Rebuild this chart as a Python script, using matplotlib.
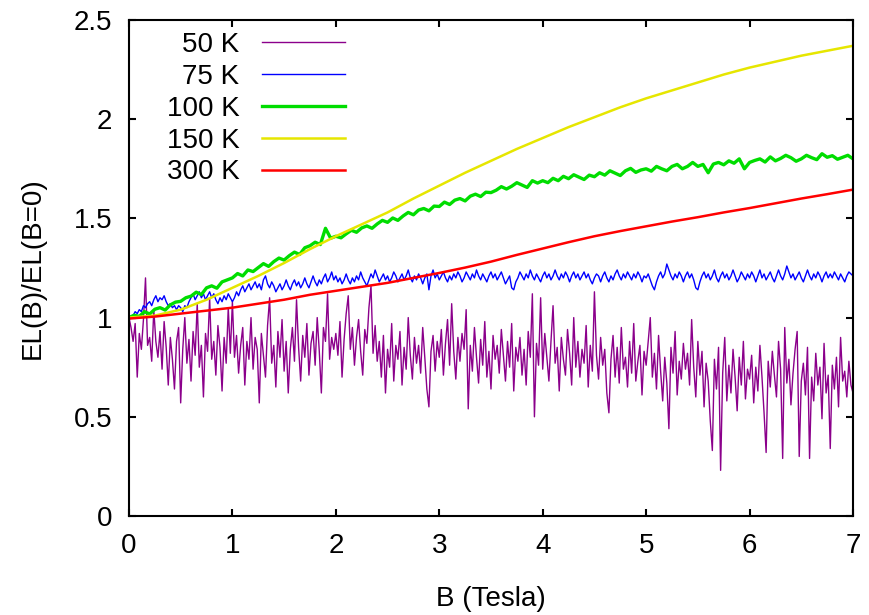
import numpy as np
import matplotlib
matplotlib.use("Agg")
import matplotlib.pyplot as plt
from matplotlib.ticker import FormatStrFormatter

plt.rcParams['font.family'] = ['Liberation Sans', 'DejaVu Sans']
plt.rcParams['font.size'] = 20

# ---- data ----
# noisy curves sampled every 0.02 T, values in hundredths
b_fine = np.round(np.arange(0, 7.0001, 0.02), 2)
el_50k = np.array([
    100, 95, 88, 97, 70, 92, 84, 99, 120, 86, 90, 78, 104, 88, 80, 93, 74, 98, 85, 66,
    90, 79, 64, 88, 95, 57, 84, 100, 77, 89, 68, 93, 81, 107, 75, 86, 60, 92, 83, 110,
    79, 88, 71, 96, 85, 63, 90, 77, 105, 82,
    108, 80, 91, 72, 86, 95, 66, 88, 79, 100, 74, 90, 84, 57, 92, 81, 70, 96, 110, 77,
    86, 65, 93, 80, 99, 73, 88, 62, 84, 95, 78, 109, 85, 68, 91, 80, 97, 71, 87, 93,
    76, 100, 83, 62, 95, 88, 112, 79, 90, 84,
    92, 81, 98, 70, 89, 102, 111, 84, 95, 76, 90, 99, 83, 71, 94, 87, 105, 116, 82, 96,
    78, 88, 70, 91, 62, 84, 75, 97, 68, 86, 79, 93, 66, 85, 74, 100, 81, 69, 90, 77,
    86, 72, 95, 80, 64, 55, 83, 91, 73, 88,
    80, 94, 71, 87, 99, 76, 107, 83, 69, 90, 78, 92, 84, 104, 54, 86, 73, 95, 80, 67,
    89, 76, 98, 70, 83, 64, 91, 79, 86, 72, 94, 81, 68, 88, 75, 97, 63, 85, 78, 90,
    71, 84, 66, 93, 80, 112, 50, 87, 76, 110,
    74, 92, 80, 68, 88, 106, 77, 85, 63, 90, 79, 71, 94, 82, 66, 100, 75, 88, 70, 84,
    77, 96, 65, 86, 73, 113, 81, 69, 90, 76, 84, 62, 52, 79, 91, 70, 85, 67, 95, 74,
    80, 65, 88, 72, 97, 68, 78, 86, 61, 83,
    76, 88, 100, 70, 82, 64, 91, 73, 58, 80, 67, 44, 85, 72, 93, 61, 78, 69, 87, 74,
    82, 66, 99, 75, 60, 88, 71, 83, 55, 77, 68, 48, 33, 79, 64, 85, 23, 72, 90, 58,
    76, 62, 84, 70, 53, 80, 66, 88, 59, 74,
    69, 81, 57, 75, 63, 86, 70, 52, 32, 78, 65, 83, 71, 60, 88, 74, 29, 95, 67, 79,
    56, 72, 84, 93, 30, 68, 77, 61, 85, 29, 70, 58, 82, 66, 75, 49, 87, 62, 71, 34,
    76, 64, 80, 55, 90, 68, 73, 60, 78, 66,
    62]) / 100.0
el_75k = np.array([
    99, 100, 101, 103, 102, 104, 103, 106, 105, 107, 108, 106, 109, 111, 108, 110, 109, 111, 108, 106,
    107, 105, 106, 104, 106, 105, 103, 106, 105, 108, 110, 112, 109, 111, 113, 110, 112, 109, 111, 113,
    110, 112, 109, 107, 110, 108, 111, 109, 112, 110,
    108, 110, 113, 111, 114, 116, 113, 115, 117, 114, 116, 118, 115, 117, 114, 119, 121, 117, 115, 118,
    116, 113, 115, 117, 114, 116, 119, 116, 114, 117, 119, 116, 118, 115, 117, 120, 117, 115, 118, 121,
    118, 116, 119, 117, 120, 122, 118, 120, 123, 119,
    121, 118, 120, 117, 119, 122, 119, 117, 120, 118, 121, 119, 123, 120, 118, 116, 119, 122, 120, 124,
    121, 118, 120, 122, 119, 121, 118, 120, 123, 121, 118, 120, 122, 119, 121, 124, 120, 118, 121, 119,
    122, 120, 117, 120, 122, 114, 121, 124, 120, 122,
    119, 121, 123, 120, 118, 121, 119, 122, 120, 123, 121, 118, 120, 123, 121, 119, 122, 120, 124, 121,
    119, 122, 120, 118, 121, 123, 120, 122, 119, 121, 123, 120, 117, 119, 121, 115, 114, 118, 120, 123,
    121, 119, 122, 120, 124, 121, 119, 122, 120, 118,
    121, 123, 120, 122, 119, 121, 124, 121, 119, 122, 120, 123, 121, 118, 121, 123, 120, 122, 119, 121,
    123, 120, 122, 119, 117, 120, 122, 121, 118, 121, 123, 120, 118, 121, 119, 122, 124, 121, 119, 122,
    120, 123, 121, 119, 122, 120, 123, 121, 118, 121,
    120, 122, 119, 116, 114, 118, 121, 123, 120, 122, 127, 124, 121, 119, 122, 120, 123, 121, 118, 121,
    123, 120, 122, 119, 115, 114, 118, 121, 123, 120, 122, 119, 121, 124, 120, 118, 121, 123, 120, 122,
    119, 121, 124, 121, 118, 120, 123, 121, 119, 122,
    120, 123, 121, 118, 121, 124, 120, 122, 119, 121, 123, 120, 118, 121, 124, 121, 119, 122, 126, 123,
    120, 122, 119, 121, 123, 120, 118, 121, 124, 121, 119, 122, 120, 123, 121, 118, 121, 123, 120, 122,
    120, 123, 121, 119, 122, 120, 118, 121, 123, 122,
    121]) / 100.0

# 100 K sampled every 0.05 T, values in thousandths
b_mid = np.round(np.arange(0, 7.0001, 0.05), 2)
el_100k = np.array([
    1000, 1012, 1006, 1030, 1018, 1042, 1050, 1038, 1064, 1078, 1082, 1100, 1108, 1128, 1116, 1150, 1160, 1148, 1180, 1190,
    1200, 1222, 1210, 1240, 1232, 1252, 1272, 1258, 1282, 1300, 1290, 1312, 1330, 1318, 1352, 1362, 1380, 1368, 1450, 1400,
    1410, 1402, 1422, 1440, 1430, 1452, 1462, 1450, 1472, 1490, 1480, 1502, 1490, 1512, 1530, 1518, 1542, 1550, 1538, 1562,
    1560, 1582, 1570, 1592, 1600, 1588, 1612, 1622, 1610, 1632, 1630, 1642, 1660, 1648, 1662, 1680, 1668, 1656, 1690, 1678,
    1690, 1680, 1702, 1690, 1712, 1700, 1720, 1708, 1696, 1718, 1710, 1730, 1718, 1740, 1728, 1716, 1740, 1752, 1732, 1744,
    1750, 1738, 1762, 1750, 1740, 1762, 1772, 1750, 1762, 1782, 1762, 1772, 1730, 1774, 1782, 1770, 1790, 1778, 1800, 1750,
    1782, 1792, 1800, 1784, 1810, 1790, 1802, 1818, 1806, 1788, 1800, 1818, 1806, 1796, 1826, 1808, 1816, 1798, 1808, 1818,
    1800]) / 1000.0

# smooth curves sampled every 0.25 T
b_coarse = np.arange(0, 7.0001, 0.25)
el_150k = [1.00, 1.01, 1.04, 1.09, 1.15, 1.21, 1.275, 1.345, 1.41, 1.47, 1.53, 1.60, 1.665, 1.73,
           1.79, 1.85, 1.905, 1.96, 2.01, 2.06, 2.105, 2.145, 2.185, 2.225, 2.26, 2.29, 2.32, 2.345, 2.37]
el_300k = [0.995, 1.005, 1.02, 1.035, 1.05, 1.07, 1.09, 1.115, 1.135, 1.155, 1.175, 1.20, 1.225, 1.252,
           1.282, 1.316, 1.348, 1.38, 1.41, 1.436, 1.46, 1.484, 1.506, 1.53, 1.552, 1.576, 1.60, 1.622, 1.645]

labels = ['50 K', '75 K', '100 K', '150 K', '300 K']
colors = ['#8B008B', '#0000FF', '#00DD00', '#E6E600', '#FF0000']

fig = plt.figure(figsize=(8.69, 6.15), dpi=100)
ax = fig.add_axes([0.1484, 0.161, 0.8332, 0.8065])

ax.plot(b_fine, el_50k, color=colors[0], lw=1.0, label=labels[0])
ax.plot(b_fine, el_75k, color=colors[1], lw=1.0, label=labels[1])
ax.plot(b_mid, el_100k, color=colors[2], lw=2.4, label=labels[2])
ax.plot(b_coarse, el_150k, color=colors[3], lw=1.8, label=labels[3])
ax.plot(b_coarse, el_300k, color=colors[4], lw=1.8, label=labels[4])

ax.set_xlim(0, 7)
ax.set_ylim(0, 2.5)
ax.set_xticks(range(0, 8))
ax.set_yticks([0, 0.5, 1, 1.5, 2, 2.5])
ax.yaxis.set_major_formatter(FormatStrFormatter('%g'))
ax.tick_params(direction='in', length=5, width=1.5, top=True, right=True, labelsize=20)
ax.tick_params(axis='x', pad=12)
ax.tick_params(axis='y', pad=12)
for s in ax.spines.values():
    s.set_linewidth(1.5)

ax.set_xlabel('B (Tesla)', fontsize=20, labelpad=20)
ax.set_ylabel('EL(B)/EL(B=0)', fontsize=20, labelpad=20)

leg = ax.legend(markerfirst=False, frameon=False, loc='upper right',
                bbox_to_anchor=(345 / 869, 1 - 32 / 615), bbox_transform=fig.transFigure,
                borderaxespad=0, borderpad=0, handlelength=3.0, handletextpad=0.8,
                labelspacing=0.21, fontsize=20)

fig.savefig('out.png', dpi=100, facecolor='white')
